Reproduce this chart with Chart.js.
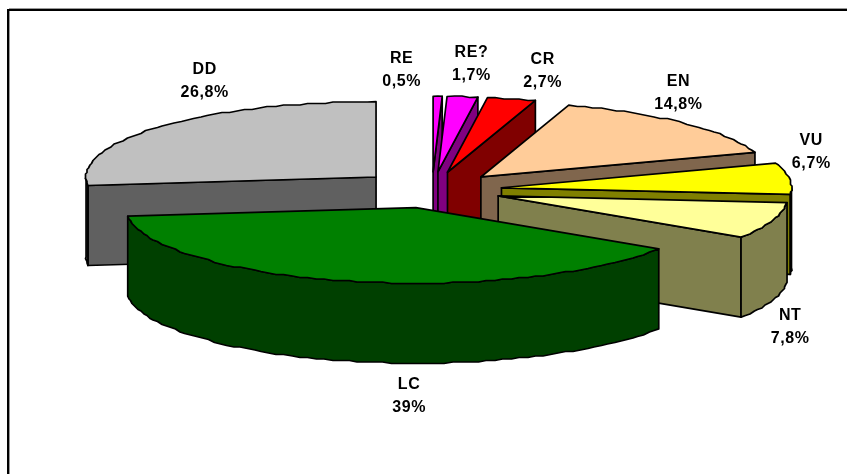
<!DOCTYPE html>
<html>
<head>
<meta charset="utf-8">
<script src="https://cdn.jsdelivr.net/npm/chart.js@4/dist/chart.umd.js"></script>
<style>
html, body { margin: 0; padding: 0; background: #fff; }
#wrap { width: 847px; height: 474px; }
</style>
</head>
<body>
<div id="wrap"><canvas id="chart"></canvas></div>
<script>
const categories = ['RE', 'RE?', 'CR', 'EN', 'VU', 'NT', 'LC', 'DD'];
const values = [0.5, 1.7, 2.7, 14.8, 6.7, 7.8, 39, 26.8];
const topColors = ['#FF00FF', '#FF00FF', '#FF0000', '#FFCC99', '#FFFF00', '#FFFF99', '#008000', '#C0C0C0'];
const sideColors = ['#800080', '#800080', '#800000', '#80664D', '#808000', '#80804D', '#004000', '#606060'];
const explode = [70, 70, 70, 70, 70, 70, 70, 75];
// painting order, back to front
const drawOrder = [7, 0, 1, 2, 3, 4, 5, 6];
// label shift from the slice's outer midpoint
const labelShiftX = [-36, 9, 31, -5, 22, 18, 60, 45];
const labelShiftY = [-26, -33, -28, -30, -26, 106, 115, -46];

const tilt = 0.26;
const depth = 80;
const snap = 1.5;

function project(arc, angle, radius) {
    const off = arc.options.offset;
    const mid = (arc.startAngle + arc.endAngle) / 2;
    const px = off * Math.cos(mid) + radius * Math.cos(angle);
    const py = off * Math.sin(mid) + radius * Math.sin(angle);
    return { x: arc.x + px, y: arc.y + py * tilt };
}

// outer edge as a list of points, rounded a bit like the old renderer did
function rimPoints(arc, from, to) {
    const pts = [];
    const steps = Math.max(2, Math.ceil((to - from) / 0.03));
    for (let i = 0; i <= steps; i++) {
        const p = project(arc, from + (to - from) * i / steps, arc.outerRadius);
        if (i > 0 && i < steps) {
            p.x = Math.round(p.x / snap) * snap;
            p.y = Math.round(p.y / snap) * snap;
        }
        pts.push(p);
    }
    return pts;
}

function poly(ctx, pts, fill) {
    ctx.beginPath();
    pts.forEach((p, i) => i ? ctx.lineTo(p.x, p.y) : ctx.moveTo(p.x, p.y));
    ctx.closePath();
    ctx.fillStyle = fill;
    ctx.fill();
    ctx.stroke();
}

function down(p) {
    return { x: p.x, y: p.y + depth };
}

const pie3d = {
    id: 'pie3d',
    beforeDraw(chart) {
        const ctx = chart.ctx;
        ctx.save();
        ctx.fillStyle = '#fff';
        ctx.fillRect(0, 0, chart.width, chart.height);
        // frame runs off the right and bottom of the picture, with a thin grey edge
        ctx.strokeStyle = '#999';
        ctx.lineWidth = 1;
        ctx.strokeRect(9.5, 8.5, 860, 490);
        ctx.strokeStyle = '#000';
        ctx.lineWidth = 2;
        ctx.strokeRect(8, 10, 860, 490);
        ctx.restore();
    },
    beforeDatasetDraw(chart, args) {
        const ctx = chart.ctx;
        const arcs = args.meta.data;
        ctx.save();
        ctx.strokeStyle = '#000';
        ctx.lineWidth = 1.7;
        ctx.lineJoin = 'round';
        drawOrder.forEach(i => {
            const arc = arcs[i];
            const a0 = arc.startAngle, a1 = arc.endAngle;
            const apex = project(arc, a0, 0);
            const first = project(arc, a0, arc.outerRadius);
            const last = project(arc, a1, arc.outerRadius);
            // cut faces that look towards the viewer
            if (Math.cos(a0) < 0) {
                poly(ctx, [first, apex, down(apex), down(first)], sideColors[i]);
            }
            if (Math.cos(a1) > 0) {
                poly(ctx, [last, apex, down(apex), down(last)], sideColors[i]);
            }
            // curved wall, only the front half of the circle shows
            const w0 = Math.max(a0, 0), w1 = Math.min(a1, Math.PI);
            if (w1 > w0) {
                const rim = rimPoints(arc, w0, w1);
                poly(ctx, rim.concat(rim.slice().reverse().map(down)), sideColors[i]);
            }
            poly(ctx, [apex].concat(rimPoints(arc, a0, a1)), topColors[i]);
        });
        ctx.restore();
        return false;
    },
    afterDatasetsDraw(chart) {
        const ctx = chart.ctx;
        const arcs = chart.getDatasetMeta(0).data;
        ctx.save();
        ctx.fillStyle = '#000';
        ctx.font = 'bold 16px "Liberation Sans", Arial, sans-serif';
        ctx.textAlign = 'center';
        ctx.textBaseline = 'middle';
        ctx.letterSpacing = '0.6px';
        categories.forEach((name, i) => {
            const arc = arcs[i];
            const p = project(arc, (arc.startAngle + arc.endAngle) / 2, arc.outerRadius);
            const x = p.x + labelShiftX[i], y = p.y + labelShiftY[i];
            ctx.fillText(name, x, y - 11.5);
            ctx.fillText(String(values[i]).replace('.', ',') + '%', x, y + 11.5);
        });
        ctx.restore();
    }
};

new Chart(document.getElementById('chart'), {
    type: 'pie',
    data: {
        labels: categories,
        datasets: [{
            data: values,
            backgroundColor: topColors,
            offset: explode,
            borderWidth: 0
        }]
    },
    options: {
        animation: false,
        responsive: true,
        maintainAspectRatio: false,
        radius: 290,
        layout: { padding: { left: 17, bottom: 94 } },
        plugins: {
            legend: { display: false },
            title: { display: false },
            tooltip: { enabled: false }
        }
    },
    plugins: [pie3d]
});
</script>
</body>
</html>
